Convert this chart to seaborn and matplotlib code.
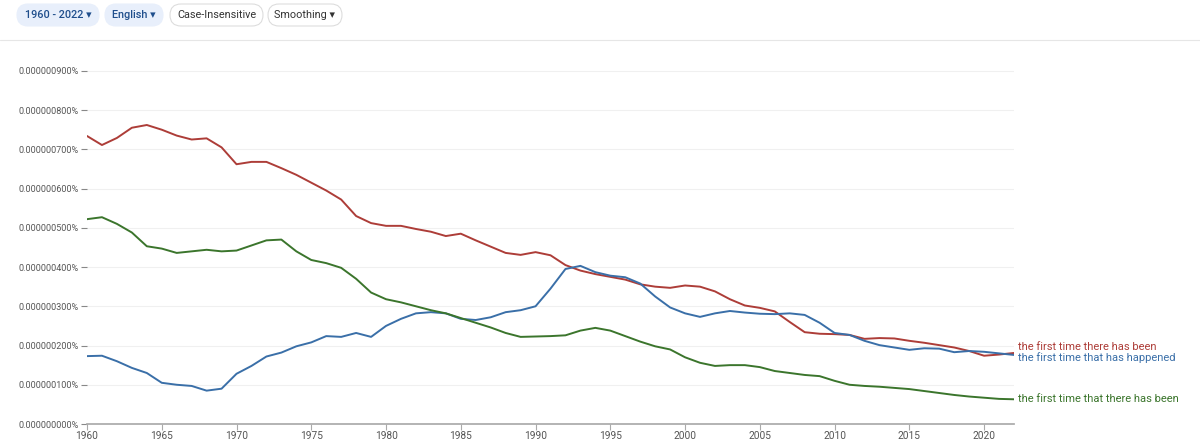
import numpy as np
import pandas as pd
import matplotlib
matplotlib.use("Agg")
import matplotlib.pyplot as plt
from matplotlib.patches import FancyBboxPatch
import seaborn as sns

years = list(range(1960, 2023))

# values in units of 1e-9 percent
there_has_been = [734, 711, 729, 755, 762, 750, 735, 725, 728, 705,
                  662, 668, 668, 652, 635, 615, 595, 572, 530, 512,
                  505, 505, 497, 490, 479, 485, 468, 452, 436, 431,
                  438, 430, 405, 391, 382, 375, 368, 356, 350, 347,
                  353, 350, 338, 318, 302, 296, 287, 260, 234, 230,
                  229, 227, 217, 219, 218, 212, 207, 201, 195, 186,
                  174, 177, 181]
that_has_happened = [173, 174, 160, 143, 130, 105, 100, 97, 85, 90,
                     128, 148, 172, 182, 198, 208, 224, 222, 232, 222,
                     250, 268, 282, 285, 282, 268, 265, 272, 285, 290,
                     300, 345, 395, 403, 387, 378, 374, 358, 325, 297,
                     282, 273, 282, 288, 284, 281, 280, 282, 278, 258,
                     232, 227, 212, 201, 195, 189, 193, 192, 183, 186,
                     184, 180, 176]
that_there_has_been = [522, 527, 510, 488, 453, 447, 436, 440, 444, 440,
                       442, 455, 468, 470, 440, 418, 410, 398, 370, 335,
                       318, 310, 300, 290, 282, 270, 258, 246, 232, 222,
                       223, 224, 226, 238, 245, 238, 224, 210, 198, 190,
                       170, 156, 148, 150, 150, 145, 135, 130, 125, 122,
                       110, 100, 97, 95, 92, 89, 84, 79, 74, 70,
                       67, 64, 63]

phrases = ["the first time there has been",
           "the first time that has happened",
           "the first time that there has been"]
colors = ["#ad3d38", "#3a6fa8", "#3b752c"]

df = pd.DataFrame({
    "year": years * 3,
    "value": there_has_been + that_has_happened + that_there_has_been,
    "phrase": [phrases[0]] * len(years) + [phrases[1]] * len(years) + [phrases[2]] * len(years),
})

sns.set_theme(style="white")
plt.rcParams['font.family'] = ['Roboto', 'DejaVu Sans']

fig = plt.figure(figsize=(12, 4.46), dpi=100)
ax = fig.add_axes([87 / 1200, 22 / 446, (1014 - 87) / 1200, (424 - 63) / 446])

sns.lineplot(data=df, x="year", y="value", hue="phrase", palette=colors,
             hue_order=phrases, linewidth=1.4, legend=False, ax=ax)

ax.set_xlim(1960, 2022)
ax.set_ylim(0, 920)
yt = list(range(0, 1000, 100))
ax.set_yticks(yt)
ax.set_yticklabels([f"{v * 1e-9:.9f}%" for v in yt])
ax.set_xticks(list(range(1960, 2021, 5)))
ax.set_xlabel("")
ax.set_ylabel("")
ax.grid(axis="y", color="#f0f0f0", linewidth=0.8)
for s in ["top", "right", "left"]:
    ax.spines[s].set_visible(False)
ax.spines["bottom"].set_color("#aaaaaa")
ax.tick_params(axis="y", left=True, length=4, width=0.8, color="#888888",
               labelsize=6.5, labelcolor="#555555", pad=2)
ax.tick_params(axis="x", bottom=True, length=4, width=0.8, color="#aaaaaa",
               labelsize=7.3, labelcolor="#555555", pad=1)

# labels at end of lines
offsets = [4, -2, 0]
for name, col, vals, off in zip(phrases, colors,
                                [there_has_been, that_has_happened, that_there_has_been], offsets):
    ax.annotate(name, xy=(years[-1], vals[-1]), xytext=(3, off),
                textcoords="offset points", color=col, fontsize=8,
                va="center", ha="left", annotation_clip=False)

# toolbar, drawn in pixel units on an overlay axes
top = fig.add_axes([0, 0, 1, 1], zorder=-1)
top.set_xlim(0, 1200)
top.set_ylim(446, 0)
top.axis("off")
buttons = [("1960 - 2022 \u25be", 17, 99, True),
           ("English \u25be", 105, 163, True),
           ("Case-Insensitive", 170, 263, False),
           ("Smoothing \u25be", 268, 342, False)]
for label, x0, x1, filled in buttons:
    y0, y1 = 4, 26
    r = (y1 - y0) / 2
    patch = FancyBboxPatch((x0 + r, y0), (x1 - x0) - 2 * r, (y1 - y0),
                           boxstyle=f"round,pad=0,rounding_size={r}",
                           facecolor="#e8effb" if filled else "white",
                           edgecolor="#e8effb" if filled else "#dddddd",
                           linewidth=0.8)
    patch.set_boxstyle(f"round,pad={r * 0},rounding_size={r}")
    patch.set_bounds(x0, y0, x1 - x0, y1 - y0)
    top.add_patch(patch)
    top.text((x0 + x1) / 2, (y0 + y1) / 2, label,
             ha="center", va="center", fontsize=7.8,
             color="#1f4e8c" if filled else "#333333",
             fontweight="medium" if filled else "normal")

top.plot([0, 1200], [40, 40], color="#e6e6e6", linewidth=0.8)

fig.savefig("out.png", dpi=100)
